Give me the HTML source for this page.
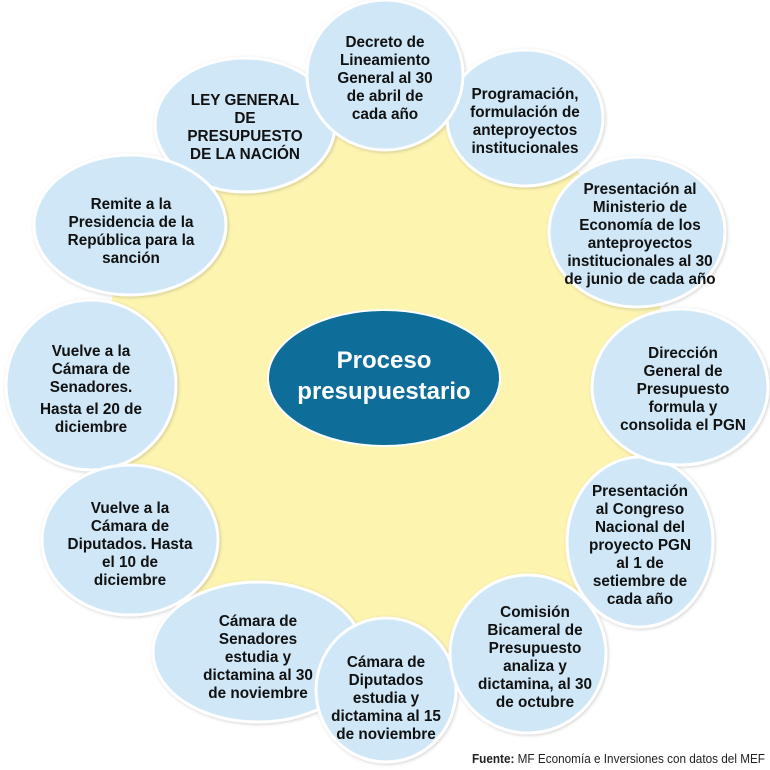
<!DOCTYPE html>
<html><head><meta charset="utf-8"><style>
html,body{margin:0;padding:0;background:#fff;}
svg{display:block;}
.c{fill:#cfe7f6;stroke:#fff;stroke-width:3;}
.t{font-family:"Liberation Sans",Arial,sans-serif;font-weight:bold;font-size:15.3px;fill:#111;text-anchor:middle;}
</style></head><body>
<svg width="770" height="770" viewBox="0 0 770 770">
<defs><filter id="sh" x="-10%" y="-10%" width="120%" height="120%"><feDropShadow dx="1" dy="1" stdDeviation="1.5" flood-color="#000" flood-opacity="0.18"/></filter></defs>
<polygon fill="#fdf4b0" points="385,75 525,118 637,232 685,387 640,542 528,654 386,690 258,652 130,530 91,385 130,225 245,125"/>
<g filter="url(#sh)">
<ellipse class="c" cx="245" cy="125" rx="90" ry="67"/>
<ellipse class="c" cx="130" cy="225" rx="96" ry="70"/>
<ellipse class="c" cx="91" cy="385" rx="85" ry="85"/>
<ellipse class="c" cx="130" cy="540" rx="88" ry="75"/>
<ellipse class="c" cx="258" cy="652" rx="105" ry="70"/>
<ellipse class="c" cx="386" cy="690" rx="70" ry="72"/>
<ellipse class="c" cx="528" cy="654" rx="78" ry="79"/>
<ellipse class="c" cx="640" cy="542" rx="73" ry="85"/>
<ellipse class="c" cx="680" cy="387" rx="88" ry="78"/>
<ellipse class="c" cx="637" cy="232" rx="88" ry="75"/>
<ellipse class="c" cx="525" cy="118" rx="78" ry="68"/>
<ellipse class="c" cx="385" cy="75" rx="78" ry="75"/>
</g>
<ellipse cx="384" cy="378" rx="116" ry="68" fill="#0f6d9a" stroke="#fff" stroke-width="2"/>
<text x="384" y="368" text-anchor="middle" font-family="Liberation Sans,sans-serif" font-weight="bold" font-size="24" fill="#fff">Proceso</text>
<text x="384" y="399" text-anchor="middle" font-family="Liberation Sans,sans-serif" font-weight="bold" font-size="24" fill="#fff">presupuestario</text>

<text class="t"><tspan x="385" y="47">Decreto de</tspan><tspan x="385" y="65">Lineamiento</tspan><tspan x="385" y="83">General al 30</tspan><tspan x="385" y="101">de abril de</tspan><tspan x="385" y="119">cada año</tspan></text>
<text class="t"><tspan x="525" y="99">Programación,</tspan><tspan x="525" y="117">formulación de</tspan><tspan x="525" y="135">anteproyectos</tspan><tspan x="525" y="153">institucionales</tspan></text>
<text class="t"><tspan x="640" y="194">Presentación al</tspan><tspan x="640" y="212">Ministerio de</tspan><tspan x="640" y="230">Economía de los</tspan><tspan x="640" y="248">anteproyectos</tspan><tspan x="640" y="266">institucionales al 30</tspan><tspan x="640" y="284">de junio de cada año</tspan></text>
<text class="t"><tspan x="683" y="358">Dirección</tspan><tspan x="683" y="376">General de</tspan><tspan x="683" y="394">Presupuesto</tspan><tspan x="683" y="412">formula y</tspan><tspan x="683" y="430">consolida el PGN</tspan></text>
<text class="t"><tspan x="640" y="496">Presentación</tspan><tspan x="640" y="514">al Congreso</tspan><tspan x="640" y="532">Nacional del</tspan><tspan x="640" y="550">proyecto PGN</tspan><tspan x="640" y="568">al 1 de</tspan><tspan x="640" y="586">setiembre de</tspan><tspan x="640" y="604">cada año</tspan></text>
<text class="t"><tspan x="535" y="617">Comisión</tspan><tspan x="535" y="635">Bicameral de</tspan><tspan x="535" y="653">Presupuesto</tspan><tspan x="535" y="671">analiza y</tspan><tspan x="535" y="689">dictamina, al 30</tspan><tspan x="535" y="707">de octubre</tspan></text>
<text class="t"><tspan x="386" y="667">Cámara de</tspan><tspan x="386" y="685">Diputados</tspan><tspan x="386" y="703">estudia y</tspan><tspan x="386" y="721">dictamina al 15</tspan><tspan x="386" y="739">de noviembre</tspan></text>
<text class="t"><tspan x="258" y="626">Cámara de</tspan><tspan x="258" y="644">Senadores</tspan><tspan x="258" y="662">estudia y</tspan><tspan x="258" y="680">dictamina al 30</tspan><tspan x="258" y="698">de noviembre</tspan></text>
<text class="t"><tspan x="130" y="513">Vuelve a la</tspan><tspan x="130" y="531">Cámara de</tspan><tspan x="130" y="549">Diputados. Hasta</tspan><tspan x="130" y="567">el 10 de</tspan><tspan x="130" y="585">diciembre</tspan></text>
<text class="t"><tspan x="91" y="356">Vuelve a la</tspan><tspan x="91" y="374">Cámara de</tspan><tspan x="91" y="392">Senadores.</tspan><tspan x="91" y="414">Hasta el 20 de</tspan><tspan x="91" y="432">diciembre</tspan></text>
<text class="t"><tspan x="131" y="209">Remite a la</tspan><tspan x="131" y="227">Presidencia de la</tspan><tspan x="131" y="245">República para la</tspan><tspan x="131" y="263">sanción</tspan></text>
<text class="t"><tspan x="245" y="105">LEY GENERAL</tspan><tspan x="245" y="123">DE</tspan><tspan x="245" y="141">PRESUPUESTO</tspan><tspan x="245" y="159">DE LA NACIÓN</tspan></text>

<text x="472" y="763" font-family="Liberation Sans Narrow,Liberation Sans,sans-serif" font-size="13" fill="#222" textLength="293" lengthAdjust="spacingAndGlyphs"><tspan font-weight="bold">Fuente:</tspan> MF Economía e Inversiones con datos del MEF</text>
</svg>
</body></html>
